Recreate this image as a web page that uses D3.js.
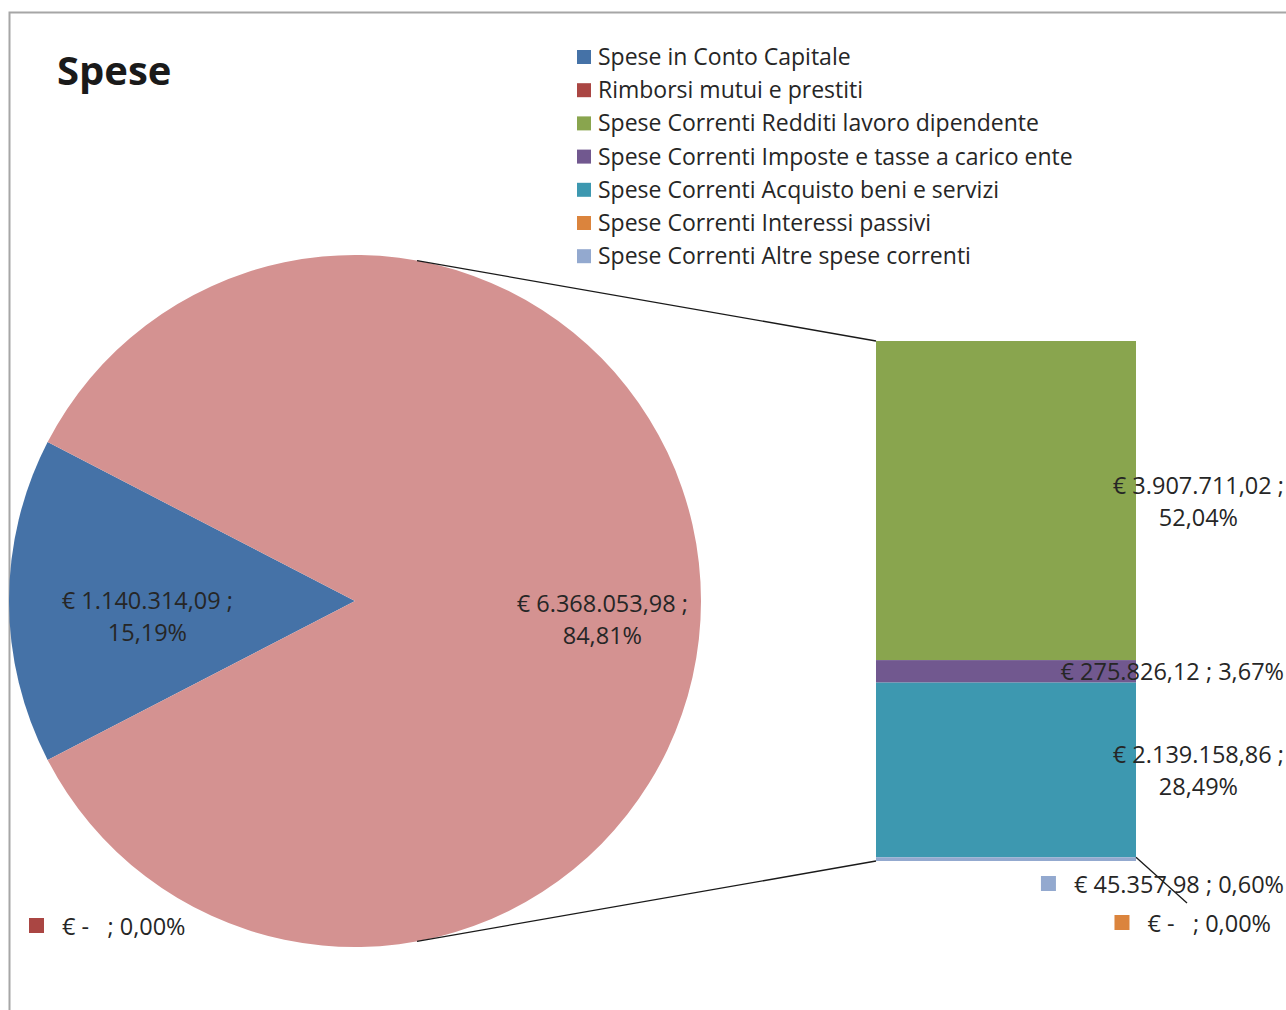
<!DOCTYPE html>
<html>
<head>
<meta charset="utf-8">
<script src="https://cdn.jsdelivr.net/npm/d3@7"></script>
<style>
  body { margin: 0; background: #fff; }
  text { font-family: "Open Sans", Lato, sans-serif; fill: #262626; white-space: pre; font-variant-ligatures: none; }
</style>
</head>
<body>
<svg width="1286" height="1010"></svg>
<script>
const svg = d3.select("svg")
const width = +svg.attr("width")
const height = +svg.attr("height")
const fs = "23px"
const fsLab = "23.5px"

// dati spese
const categories = [
  "Spese in Conto Capitale",
  "Rimborsi mutui e prestiti",
  "Spese Correnti Redditi lavoro dipendente",
  "Spese Correnti Imposte e tasse a carico ente",
  "Spese Correnti Acquisto beni e servizi",
  "Spese Correnti Interessi passivi",
  "Spese Correnti Altre spese correnti"
]
const values = [1140314.09, 0, 3907711.02, 275826.12, 2139158.86, 0, 45357.98]
const colors = ["#4572A7", "#AA4643", "#89A54E", "#71588F", "#3D98B0", "#DB843D", "#93A9CF"]
const pieIdx = [0, 1]
const barIdx = [2, 3, 4, 5, 6]
const otherColor = "#D49291"

const it = d3.formatLocale({ decimal: ",", thousands: ".", grouping: [3], currency: ["€ ", ""] })
const fmtVal = v => v === 0 ? "€ -   " : it.format("$,.2f")(v)
const fmtPct = it.format(".2%")

const total = d3.sum(values)
const otherTotal = d3.sum(barIdx, i => values[i])

// bordo
svg.append("rect")
  .attr("x", 9.5).attr("y", 12.5)
  .attr("width", width + 20).attr("height", height + 20)
  .attr("fill", "none").attr("stroke", "#a6a6a6").attr("stroke-width", 2)

svg.append("text")
  .attr("x", 57).attr("y", 85)
  .style("font-size", "40px").style("font-weight", "bold")
  .style("fill", "#1a1a1a")
  .text("Spese")

// legenda
const legend = svg.append("g").attr("transform", "translate(577,57)")
categories.forEach((c, i) => {
  const g = legend.append("g").attr("transform", `translate(0,${i * 33.2})`)
  g.append("rect").attr("x", 0).attr("y", -7).attr("width", 14).attr("height", 14).attr("fill", colors[i])
  g.append("text").attr("x", 21).attr("y", 8).style("font-size", fs).text(c)
})

// torta
const cx = 355, cy = 601, r = 346
const pieData = pieIdx.map(i => ({ name: categories[i], value: values[i], color: colors[i], idx: i }))
pieData.push({ name: "Altro", value: otherTotal, color: otherColor, idx: -1 })

const start = 1.5 * Math.PI - (values[0] / total) * Math.PI
const pie = d3.pie().sort(null).value(d => d.value)
  .startAngle(start).endAngle(start + 2 * Math.PI)
const arc = d3.arc().innerRadius(0).outerRadius(r)
const arcs = pie(pieData)

const pg = svg.append("g").attr("transform", `translate(${cx},${cy})`)
pg.selectAll("path")
  .data(arcs.filter(d => d.value > 0))
  .join("path")
  .attr("d", arc)
  .attr("fill", d => d.data.color)

const labelR = { 0: 0.6, "-1": 0.715 }
arcs.filter(d => d.value > 0).forEach(d => {
  const lr = r * labelR[d.data.idx]
  const c = d3.arc().innerRadius(lr).outerRadius(lr).centroid(d)
  const t = pg.append("text").attr("text-anchor", "middle").style("font-size", fsLab)
  t.append("tspan").attr("x", c[0]).attr("y", c[1] + (d.data.idx === 0 ? 8 : 11)).text(fmtVal(d.value) + " ;")
  t.append("tspan").attr("x", c[0]).attr("dy", 32).text(fmtPct(d.value / total))
})

// etichetta valore zero (rimborsi)
const zeroPie = svg.append("g").attr("transform", "translate(29,926)")
zeroPie.append("rect").attr("x", 0).attr("y", -8).attr("width", 15).attr("height", 15).attr("fill", colors[1])
zeroPie.append("text").attr("x", 33).attr("y", 9).style("font-size", fsLab)
  .text(fmtVal(values[1]) + "; " + fmtPct(values[1] / total))

// barra
const barX = 876, barW = 260, barTop = 341, barBottom = 861
const y = d3.scaleLinear().domain([0, otherTotal]).range([barTop, barBottom])
let acc = 0
const stack = barIdx.map(i => {
  const s = { idx: i, y0: acc, y1: acc + values[i] }
  acc += values[i]
  return s
})

// linee di collegamento
const a = Math.asin(62 / r)
svg.append("g").attr("stroke", "#1a1a1a").attr("stroke-width", 1.3)
  .selectAll("line")
  .data([[a, barTop], [Math.PI - a, barBottom]])
  .join("line")
  .attr("x1", d => cx + r * Math.sin(d[0]))
  .attr("y1", d => cy - r * Math.cos(d[0]))
  .attr("x2", barX)
  .attr("y2", d => d[1])

svg.append("g").selectAll("rect")
  .data(stack.filter(d => d.y1 > d.y0))
  .join("rect")
  .attr("x", barX).attr("width", barW)
  .attr("y", d => y(d.y0))
  .attr("height", d => y(d.y1) - y(d.y0))
  .attr("fill", d => colors[d.idx])

const rightEdge = 1284
stack.filter(d => values[d.idx] / otherTotal > 0.2).forEach(d => {
  const mid = (y(d.y0) + y(d.y1)) / 2
  const t = svg.append("text").attr("text-anchor", "middle").style("font-size", fsLab)
  const t1 = t.append("tspan").attr("y", mid - 7).text(fmtVal(values[d.idx]) + " ;")
  const w = t1.node().getComputedTextLength()
  t1.attr("x", rightEdge - w / 2)
  t.append("tspan").attr("x", rightEdge - w / 2).attr("dy", 32).text(fmtPct(values[d.idx] / total))
})
stack.filter(d => values[d.idx] / otherTotal > 0.02 && values[d.idx] / otherTotal <= 0.2).forEach(d => {
  const mid = (y(d.y0) + y(d.y1)) / 2
  svg.append("text").attr("text-anchor", "end").attr("x", rightEdge).attr("y", mid + 9)
    .style("font-size", fsLab)
    .text(fmtVal(values[d.idx]) + " ; " + fmtPct(values[d.idx] / total))
})

// etichette piccole sotto la barra
const small = [6, 5]
const smallPos = [[rightEdge, 884], [1271, 923]]
const altre = stack.find(d => d.idx === 6)
svg.append("line")
  .attr("x1", barX + barW).attr("y1", (y(altre.y0) + y(altre.y1)) / 2 - 2)
  .attr("x2", 1187).attr("y2", 903)
  .attr("stroke", "#1a1a1a").attr("stroke-width", 1.3)
small.forEach((i, k) => {
  const [x, yy] = smallPos[k]
  const t = svg.append("text").attr("text-anchor", "end").attr("x", x).attr("y", yy + 9)
    .style("font-size", fsLab)
    .text(fmtVal(values[i]) + (values[i] === 0 ? "; " : " ; ") + fmtPct(values[i] / total))
  const w = t.node().getComputedTextLength()
  svg.append("rect").attr("x", x - w - 33).attr("y", yy - 8).attr("width", 15).attr("height", 15)
    .attr("fill", colors[i])
})
</script>
</body>
</html>
